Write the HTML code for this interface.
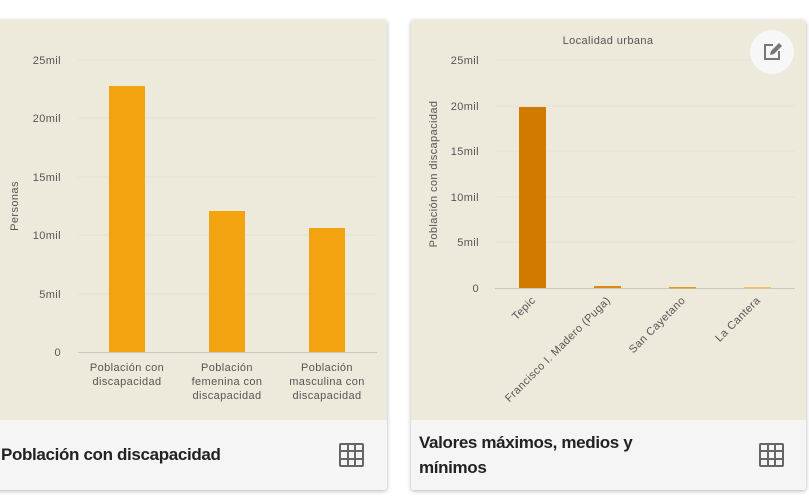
<!DOCTYPE html>
<html><head><meta charset="utf-8"><style>
body{margin:0;width:809px;height:496px;background:#fff;font-family:"Liberation Sans",sans-serif;overflow:hidden;position:relative}
.card{position:absolute;top:20px;height:470px;box-shadow:0 1px 4px rgba(0,0,0,.3);border-radius:3px;overflow:hidden}
.chart{position:absolute;left:0;right:0;top:0;height:400px;background:#edeadc}
.foot{position:absolute;left:0;right:0;top:400px;bottom:0;background:#f5f5f5}
.t{position:absolute;font-weight:bold;font-size:17px;letter-spacing:-0.35px;color:#222;line-height:25px}
svg{position:absolute;left:0;top:0}
</style></head><body>
<div class="card" style="left:-5px;width:392px"><div class="chart"></div><div class="foot"></div></div>
<div class="card" style="left:411px;width:395px"><div class="chart"></div><div class="foot"></div></div>
<div class="t" style="left:1px;top:442px">Población con discapacidad</div>
<div class="t" style="left:419px;top:430px">Valores máximos, medios y<br>mínimos</div>
<svg width="809" height="496" font-family="Liberation Sans, sans-serif" font-size="11" fill="#555" letter-spacing="0.4">
<g stroke="#e6e2d2" stroke-width="1">
<line x1="78" x2="377" y1="60" y2="60"/><line x1="78" x2="377" y1="118" y2="118"/><line x1="78" x2="377" y1="177" y2="177"/><line x1="78" x2="377" y1="235" y2="235"/><line x1="78" x2="377" y1="294" y2="294"/>
<line x1="495" x2="795" y1="60" y2="60"/><line x1="495" x2="795" y1="106" y2="106"/><line x1="495" x2="795" y1="151" y2="151"/><line x1="495" x2="795" y1="197" y2="197"/><line x1="495" x2="795" y1="242" y2="242"/>
</g>
<line x1="78" x2="377" y1="352.5" y2="352.5" stroke="#c8c8c8"/>
<line x1="495" x2="795" y1="288.5" y2="288.5" stroke="#c8c8c8"/>
<g text-anchor="end">
<text x="61" y="64">25mil</text><text x="61" y="122">20mil</text><text x="61" y="181">15mil</text><text x="61" y="239">10mil</text><text x="61" y="298">5mil</text><text x="61" y="356">0</text>
<text x="479" y="64">25mil</text><text x="479" y="110">20mil</text><text x="479" y="155">15mil</text><text x="479" y="201">10mil</text><text x="479" y="246">5mil</text><text x="479" y="292">0</text>
</g>
<text transform="translate(18,206) rotate(-90)" text-anchor="middle">Personas</text>
<text transform="translate(437,174) rotate(-90)" text-anchor="middle">Población con discapacidad</text>
<text x="608" y="44" text-anchor="middle">Localidad urbana</text>
<g fill="#f2a30f">
<rect x="109" y="86" width="36" height="266"/><rect x="209" y="211" width="36" height="141"/><rect x="309" y="228" width="36" height="124"/>
</g>
<rect x="519" y="107" width="27" height="181" fill="#d17a00"/>
<rect x="594" y="286" width="27" height="2" fill="#d98a10"/>
<rect x="669" y="287" width="27" height="1.5" fill="#e09a20"/>
<rect x="744" y="287" width="27" height="1.5" fill="#f3c060"/>
<g text-anchor="middle">
<text x="127" y="371">Población con</text><text x="127" y="385">discapacidad</text>
<text x="227" y="371">Población</text><text x="227" y="385">femenina con</text><text x="227" y="399">discapacidad</text>
<text x="327" y="371">Población</text><text x="327" y="385">masculina con</text><text x="327" y="399">discapacidad</text>
</g>
<g text-anchor="end">
<text transform="translate(536,301) rotate(-45)">Tepic</text>
<text transform="translate(611,301) rotate(-45)">Francisco I. Madero (Puga)</text>
<text transform="translate(686,301) rotate(-45)">San Cayetano</text>
<text transform="translate(761,301) rotate(-45)">La Cantera</text>
</g>
<circle cx="772" cy="52" r="22" fill="#f7f7f7"/>
<g fill="none" stroke="#777" stroke-width="2"><path d="M773 45h-8v14h14v-8"/></g>
<path d="M770 55l1-4 8-8 3 3-8 8z" fill="#777"/>
<g fill="none" stroke="#666" stroke-width="2">
<rect x="340" y="444" width="23" height="22" rx="1"/><path d="M348 444v22M355 444v22M340 451h23M340 459h23"/>
<rect x="760" y="444" width="23" height="22" rx="1"/><path d="M768 444v22M775 444v22M760 451h23M760 459h23"/>
</g>
</svg>
</body></html>
